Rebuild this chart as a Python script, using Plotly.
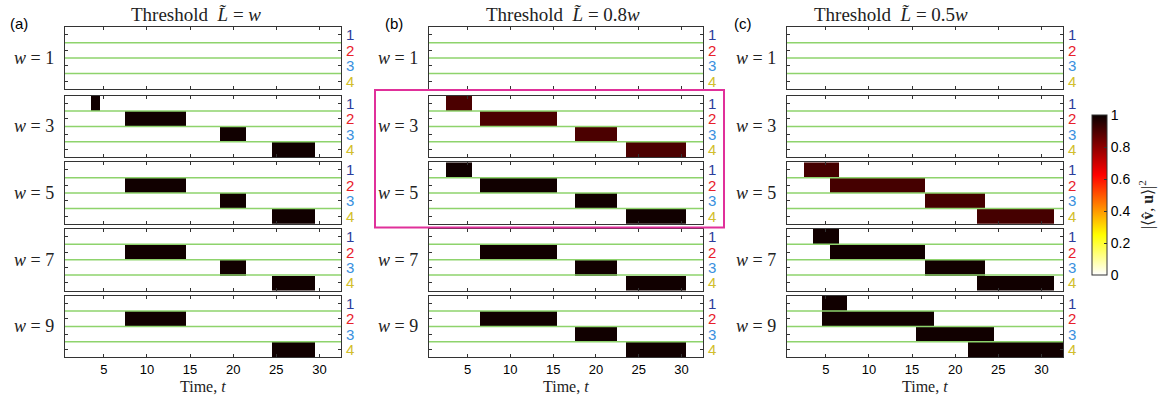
import plotly.graph_objects as go

# ---------------- data ----------------
T = list(range(1, 33))            # time steps
ROWS = [1, 2, 3, 4]               # component index
W_VALUES = [1, 3, 5, 7, 9]        # window sizes
ROW_LABELS = ["1", "2", "3", "4"]
X_TICKS = [5, 10, 15, 20, 25, 30]
CBAR_TICKS = [0, 0.2, 0.4, 0.6, 0.8, 1]
CBAR_TICKTEXT = ["0", "0.2", "0.4", "0.6", "0.8", "1"]
TITLES = ["Threshold  <i>L\u0303</i> = <i>w</i>",
          "Threshold  <i>L\u0303</i> = 0.8<i>w</i>",
          "Threshold  <i>L\u0303</i> = 0.5<i>w</i>"]
TAGS = ["(a)", "(b)", "(c)"]

# active time intervals (first t, last t) per row, None = inactive
ACT_A = {1: [None, None, None, None],
         3: [(4, 4), (8, 14), (19, 21), (25, 29)],
         5: [None, (8, 14), (19, 21), (25, 29)],
         7: [None, (8, 14), (19, 21), (25, 29)],
         9: [None, (8, 14), None, (25, 29)]}
VAL_A = {1: 0.0, 3: 0.99, 5: 0.99, 7: 0.99, 9: 0.99}

ACT_B = {1: [None, None, None, None],
         3: [(3, 5), (7, 15), (18, 22), (24, 30)],
         5: [(3, 5), (7, 15), (18, 22), (24, 30)],
         7: [None, (7, 15), (18, 22), (24, 30)],
         9: [None, (7, 15), (18, 22), (24, 30)]}
VAL_B = {1: 0.0, 3: 0.9, 5: 0.99, 7: 0.99, 9: 0.99}

ACT_C = {1: [None, None, None, None],
         3: [None, None, None, None],
         5: [(3, 6), (6, 16), (17, 23), (23, 31)],
         7: [(4, 6), (6, 16), (17, 23), (23, 31)],
         9: [(5, 7), (5, 17), (16, 24), (22, 32)]}
VAL_C = {1: 0.0, 3: 0.0, 5: 0.91, 7: 0.99, 9: 0.99}

COLUMNS = [(ACT_A, VAL_A), (ACT_B, VAL_B), (ACT_C, VAL_C)]

# ---------------- layout geometry (pixels) ----------------
W_PX, H_PX = 1168, 396
COL_X = [(65, 341), (429, 703), (787, 1063)]
PANEL_TOPS = [27.3, 95.7, 162.3, 229.0, 295.7]
PANEL_H = 61.5
TITLE_CX = [196, 563, 891]
TAG_X = [8, 383, 732]
ROW_COLORS = ["#2a3d9c", "#e8202a", "#3a90de", "#d2be2c"]
GREEN = "#8ed36c"

SERIF = "Liberation Serif, Times New Roman, serif"
SANS = "Liberation Sans, Arial, Helvetica, sans-serif"

COLORSCALE = [[0.0, "rgb(255,255,255)"], [0.25, "rgb(255,255,0)"],
              [0.625, "rgb(255,0,0)"], [1.0, "rgb(10,0,0)"]]


def px_x(x):
    return x / W_PX


def px_y(y):
    return 1 - y / H_PX


fig = go.Figure()
layout = dict(width=W_PX, height=H_PX, margin=dict(l=0, r=0, t=0, b=0),
              paper_bgcolor="white", plot_bgcolor="white", showlegend=False,
              coloraxis=dict(cmin=0, cmax=1, colorscale=COLORSCALE,
                             colorbar=dict(x=px_x(1092), xanchor="left",
                                           y=px_y(195), yanchor="middle",
                                           len=160, lenmode="pixels",
                                           thickness=15, thicknessmode="pixels",
                                           outlinecolor="#333", outlinewidth=1,
                                           tickvals=CBAR_TICKS,
                                           ticktext=CBAR_TICKTEXT,
                                           ticks="inside", ticklen=3, tickcolor="#333",
                                           tickfont=dict(family=SANS, size=14, color="black"),
                                           xpad=0, ypad=0)))
shapes = []
annotations = []

n = 0
for c, (acts, vals) in enumerate(COLUMNS):
    x0, x1 = COL_X[c]
    for r, w in enumerate(W_VALUES):
        n += 1
        z = []
        for k, row in enumerate(ROWS):
            iv = acts[w][k]
            z.append([vals[w] if (iv is not None and iv[0] <= t <= iv[1]) else 0.0 for t in T])
        xa = "x" if n == 1 else f"x{n}"
        ya = "y" if n == 1 else f"y{n}"
        fig.add_trace(go.Heatmap(x=T, y=ROWS, z=z, coloraxis="coloraxis",
                                 xaxis=xa, yaxis=ya, hoverinfo="skip"))
        top = PANEL_TOPS[r]
        bot = top + PANEL_H
        bottom_row = (r == len(W_VALUES) - 1)
        layout["xaxis" if n == 1 else f"xaxis{n}"] = dict(
            domain=[px_x(x0), px_x(x1)], anchor=ya, range=[0.5, 32.5],
            tickvals=X_TICKS, ticks="inside", ticklen=3, tickcolor="#333",
            showline=True, linecolor="#333", linewidth=1, mirror="allticks",
            showgrid=False, zeroline=False, showticklabels=bottom_row,
            tickfont=dict(family=SANS, size=13, color="black"))
        layout["yaxis" if n == 1 else f"yaxis{n}"] = dict(
            domain=[px_y(bot), px_y(top)], anchor=xa, range=[4.5, 0.5],
            tickvals=ROWS, ticks="inside", ticklen=3, tickcolor="#333",
            showline=True, linecolor="#333", linewidth=1, mirror="allticks",
            showgrid=False, zeroline=False, showticklabels=False)
        # green separators
        for yb in [1.5, 2.5, 3.5]:
            shapes.append(dict(type="line", xref=f"{xa} domain", yref=ya,
                               x0=0, x1=1, y0=yb, y1=yb,
                               line=dict(color=GREEN, width=1.5)))
        # right row labels
        for k, row in enumerate(ROWS):
            annotations.append(dict(x=px_x(x1 + 3), xref="paper", xanchor="left",
                                    y=row, yref=ya, yanchor="middle",
                                    text=ROW_LABELS[k], showarrow=False,
                                    font=dict(family=SANS, size=15, color=ROW_COLORS[k])))
        # left w label
        annotations.append(dict(x=px_x(x0 - 9), xref="paper", xanchor="right",
                                y=px_y(top + PANEL_H / 2), yref="paper", yanchor="middle",
                                text=f"<i>w</i> = {w}", showarrow=False,
                                font=dict(family=SERIF, size=18, color="#222")))
    # column title, tag, x label
    annotations.append(dict(x=px_x(TITLE_CX[c]), xref="paper", xanchor="center",
                            y=px_y(14), yref="paper", yanchor="middle",
                            text=TITLES[c], showarrow=False,
                            font=dict(family=SERIF, size=19, color="#222")))
    annotations.append(dict(x=px_x(TAG_X[c]), xref="paper", xanchor="left",
                            y=px_y(24), yref="paper", yanchor="middle",
                            text=TAGS[c], showarrow=False,
                            font=dict(family=SANS, size=15, color="black")))
    annotations.append(dict(x=px_x((x0 + x1) / 2), xref="paper", xanchor="center",
                            y=px_y(386), yref="paper", yanchor="middle",
                            text="Time, <i>t</i>", showarrow=False,
                            font=dict(family=SERIF, size=16, color="#222")))

# highlight box around (b) w=3 and w=5
shapes.append(dict(type="rect", xref="paper", yref="paper",
                   x0=px_x(375), x1=px_x(724), y0=px_y(227.5), y1=px_y(90),
                   line=dict(color="#e0309a", width=2), fillcolor="rgba(0,0,0,0)"))

# colorbar title
annotations.append(dict(x=px_x(1147), xref="paper", xanchor="center",
                        y=px_y(205), yref="paper", yanchor="middle",
                        text="|⟨<b>v̂</b>, <b>u</b>⟩|<sup>2</sup>", textangle=-90,
                        showarrow=False, font=dict(family=SERIF, size=16, color="#222")))

layout["shapes"] = shapes
layout["annotations"] = annotations
fig.update_layout(**layout)
fig.write_html("out.html")
